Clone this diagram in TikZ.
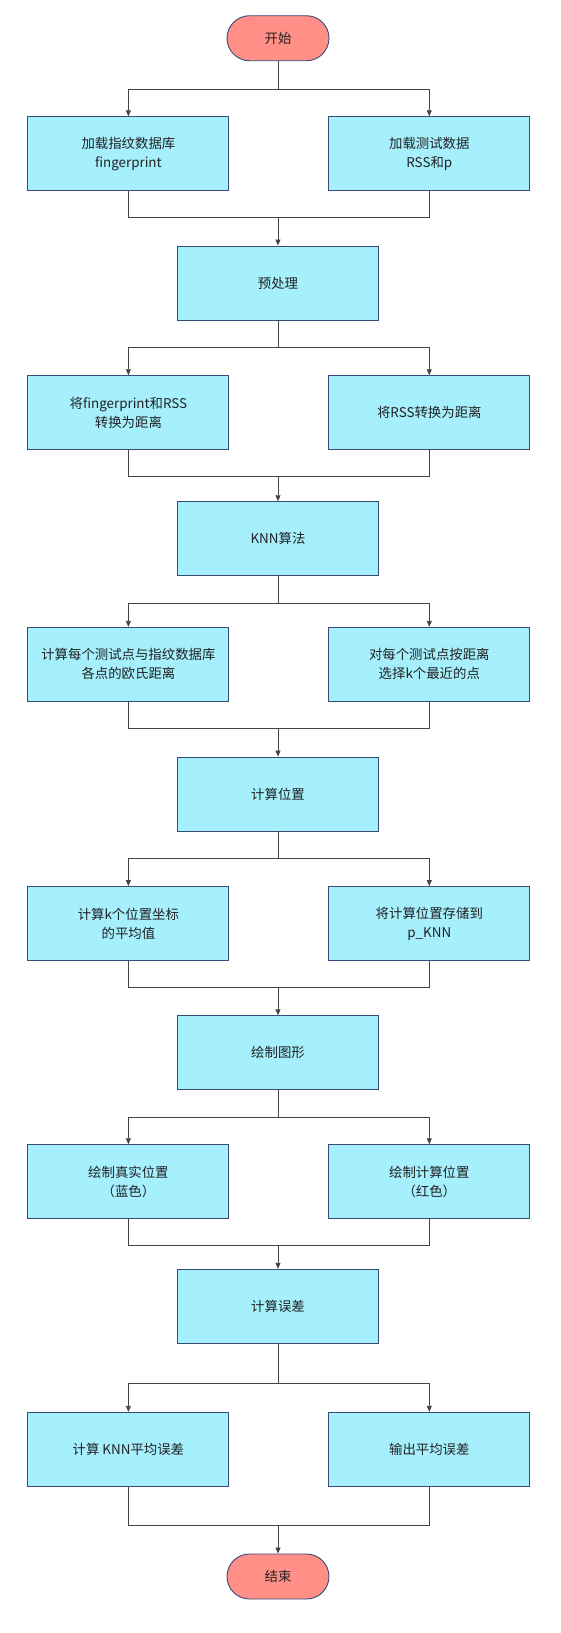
\documentclass[tikz,border=0pt]{standalone}
\usepackage{fontspec}
\setmainfont{Noto Sans CJK SC}
\usepackage{tikz}
\usetikzlibrary{arrows.meta}
\definecolor{boxfill}{HTML}{A6EFFD}
\definecolor{termfill}{HTML}{FF8F87}
\definecolor{rim}{HTML}{3A4A78}
\definecolor{wire}{HTML}{444444}
\definecolor{ink}{HTML}{222222}
\tikzset{
  stepbox/.style={draw=rim,fill=boxfill,line width=0.9pt,minimum width=201pt,
    minimum height=74pt,inner sep=0pt,align=center,text=ink,
    font=\fontsize{13.4}{19}\selectfont},
  termbox/.style={draw=rim,fill=termfill,line width=0.9pt,minimum width=102pt,
    minimum height=45pt,rounded corners=22.5pt,inner sep=0pt,text=ink,
    font=\fontsize{13.4}{19}\selectfont},
  link/.style={draw=wire,line width=0.8pt}
}

\begin{document}
\begin{tikzpicture}[x=1pt,y=-1pt,>={Triangle[length=6pt,width=5pt]}]
  \useasboundingbox (0,0) rectangle (561,1633);
  % start / end
  \node[termbox] (c0) at (278,38.2)   {开始};
  \node[termbox] (c6) at (278,1576.5) {结束};
  % middle column
  \node[stepbox] (c1) at (278,283)    {预处理};
  \node[stepbox] (c2) at (278,538.7)  {KNN算法};
  \node[stepbox] (c3) at (278,794)    {计算位置};
  \node[stepbox] (c4) at (278,1052.7) {绘制图形};
  \node[stepbox] (c5) at (278,1306.3) {计算误差};
  % side pairs
  \node[stepbox] (l1) at (128.4,153.7)  {加载指纹数据库\\fingerprint};
  \node[stepbox] (r1) at (429.3,153.7)  {加载测试数据\\RSS和p};
  \node[stepbox] (l2) at (128.4,412.7)  {将fingerprint和RSS\\转换为距离};
  \node[stepbox] (r2) at (429.3,412.7)  {将RSS转换为距离};
  \node[stepbox] (l3) at (128.4,664.3)  {计算每个测试点与指纹数据库\\各点的欧氏距离};
  \node[stepbox] (r3) at (429.3,664.3)  {对每个测试点按距离\\选择k个最近的点};
  \node[stepbox] (l4) at (128.4,923.5)  {计算k个位置坐标\\的平均值};
  \node[stepbox] (r4) at (429.3,923.5)  {将计算位置存储到\\p\_KNN};
  \node[stepbox] (l5) at (128.4,1181.7) {绘制真实位置\\（蓝色）};
  \node[stepbox] (r5) at (429.3,1181.7) {绘制计算位置\\（红色）};
  \node[stepbox] (l6) at (128.4,1449.3) {计算 KNN平均误差};
  \node[stepbox] (r6) at (429.3,1449.3) {输出平均误差};
  % split and join
  \foreach \j/\i/\by/\my in {0/1/89/217.3,1/2/347.3/476.7,2/3/603.3/728.3,
      3/4/858.7/987.7,4/5/1117/1245.7,5/6/1383/1525.3} {
    \coordinate (b\i) at (278,\by);
    \coordinate (m\i) at (278,\my);
    \draw[link] (c\j.south) -- (b\i);
    \draw[link,->] (b\i) -| (l\i.north);
    \draw[link,->] (b\i) -| (r\i.north);
    \draw[link] (l\i.south) |- (m\i);
    \draw[link] (r\i.south) |- (m\i);
    \draw[link,->] (m\i) -- (c\i.north);
  }
\end{tikzpicture}
\end{document}
